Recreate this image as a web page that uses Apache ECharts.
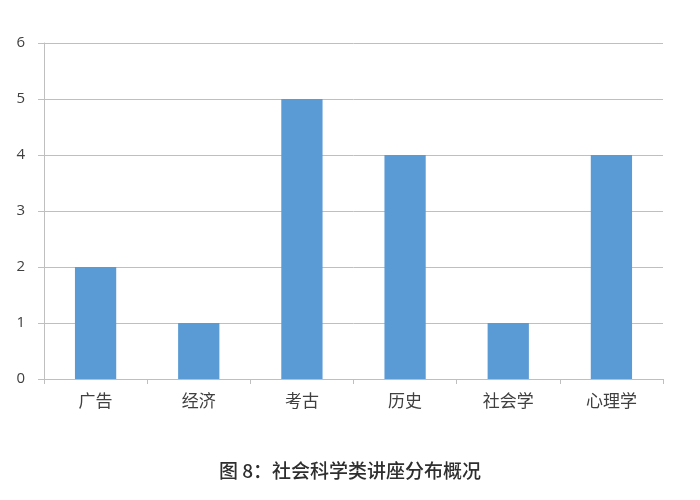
<!DOCTYPE html>
<html><head><meta charset="utf-8">
<script src="https://cdn.jsdelivr.net/npm/echarts@6/dist/echarts.min.js"></script>
<style>html,body{margin:0;padding:0;background:#fff}#c{width:700px;height:500px}</style>
</head><body><div id="c"></div>
<script>
const categories = ['广告','经济','考古','历史','社会学','心理学'];
const values = [2,1,5,4,1,4];
const yTicks = [0,1,2,3,4,5,6];
const titleText = '图 8：社会科学类讲座分布概况';

const chart = echarts.init(document.getElementById('c'), null, {renderer:'canvas'});
chart.setOption({
  animation:false,
  backgroundColor:'#fff',
  title:{text:titleText,left:'center',top:456,textStyle:{fontFamily:'Noto Sans CJK SC',fontSize:19,fontWeight:500,color:'#2e2e2e'}},
  grid:{left:44,right:37,top:43,bottom:121,containLabel:false},
  xAxis:{type:'category',data:categories,
    axisLine:{lineStyle:{color:'#BFBFBF',width:1}},
    axisTick:{show:true,length:5,alignWithLabel:false,lineStyle:{color:'#BFBFBF'}},
    axisLabel:{fontFamily:'Noto Sans CJK SC',fontSize:17,color:'#404040',margin:13}},
  yAxis:{type:'value',min:yTicks[0],max:yTicks[yTicks.length-1],interval:1,
    axisLine:{show:true,lineStyle:{color:'#BFBFBF',width:1}},
    axisTick:{show:true,length:6,lineStyle:{color:'#BFBFBF'}},
    splitLine:{lineStyle:{color:'#BFBFBF',width:1}},
    axisLabel:{fontFamily:'Open Sans',fontSize:15,color:'#404040',margin:19}},
  series:[{type:'bar',data:values,barWidth:'40%',itemStyle:{color:'#5B9BD5'}}]
});
</script></body></html>
